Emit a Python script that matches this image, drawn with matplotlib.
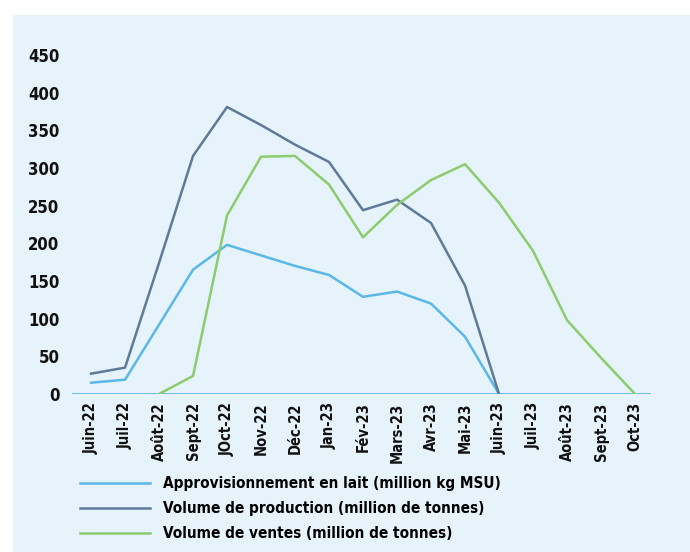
import numpy as np
import matplotlib
matplotlib.use('Agg')
import matplotlib.pyplot as plt
from matplotlib.patches import Rectangle

plt.rcParams['font.family'] = ['Liberation Sans Narrow', 'DejaVu Sans']
plt.rcParams['font.stretch'] = 'condensed'
plt.rcParams['font.weight'] = 'bold'

months = ['Juin-22', 'Juil-22', 'Août-22', 'Sept-22', 'JOct-22', 'Nov-22', 'Déc-22',
          'Jan-23', 'Fév-23', 'Mars-23', 'Avr-23', 'Mai-23', 'Juin-23', 'Juil-23',
          'Août-23', 'Sept-23', 'Oct-23']

# approvisionnement en lait, Juin-22 .. Juin-23
appro = [15, 19, 92, 165, 198, 184, 170, 158, 129, 136, 120, 76, 0]
# volume de production, Juin-22 .. Juin-23
production = [27, 35, 174, 316, 381, 357, 331, 308, 244, 258, 227, 144, 0]
# volume de ventes, Août-22 .. Oct-23
ventes = [0, 24, 237, 315, 316, 278, 208, 251, 284, 305, 254, 190, 98, 48, 0]

labels = ['Approvisionnement en lait (million kg MSU)',
          'Volume de production (million de tonnes)',
          'Volume de ventes (million de tonnes)']

c_appro = '#5bb8e6'
c_prod = '#5f7a99'
c_ventes = '#8ccc6e'
bg = '#e6f3fb'

fig = plt.figure(figsize=(6.9, 5.52), dpi=100)
fig.patch.set_facecolor('white')
fig.patches.append(Rectangle((13 / 690, 0), 1, 1 - 15 / 552, transform=fig.transFigure,
                             facecolor=bg, edgecolor='none', zorder=-10))

ax = fig.add_axes([72 / 690, 1 - 394 / 552, (651 - 72) / 690, (394 - 55) / 552])
ax.set_facecolor('none')

x = np.arange(len(months))
ax.axhline(0, color=c_appro, lw=2, zorder=1)
ax.plot(x[:len(appro)], appro, color=c_appro, lw=1.8, label=labels[0], zorder=3)
ax.plot(x[:len(production)], production, color=c_prod, lw=1.8, label=labels[1], zorder=3)
ax.plot(x[2:2 + len(ventes)], ventes, color=c_ventes, lw=1.8, label=labels[2], zorder=3)

ax.set_xlim(-0.56, 16.47)
ax.set_ylim(0, 450)
ax.set_yticks(np.arange(0, 451, 50))
ax.set_xticks(x)
ax.set_xticklabels(months, rotation=90, fontsize=10.5, color='#111111')
ax.tick_params(axis='y', labelsize=12, colors='#111111', length=0, pad=9)
ax.tick_params(axis='x', length=0, pad=6)
for s in ax.spines.values():
    s.set_visible(False)

fig.legend(loc='upper left', bbox_to_anchor=(80 / 690, 1 - 476 / 552), frameon=False,
           prop={'size': 11, 'weight': 'bold', 'stretch': 'condensed'},
           handlelength=4.6, handletextpad=0.85, labelspacing=0.65,
           borderaxespad=0, borderpad=0)

fig.savefig('out.png', dpi=100, facecolor=fig.get_facecolor())
